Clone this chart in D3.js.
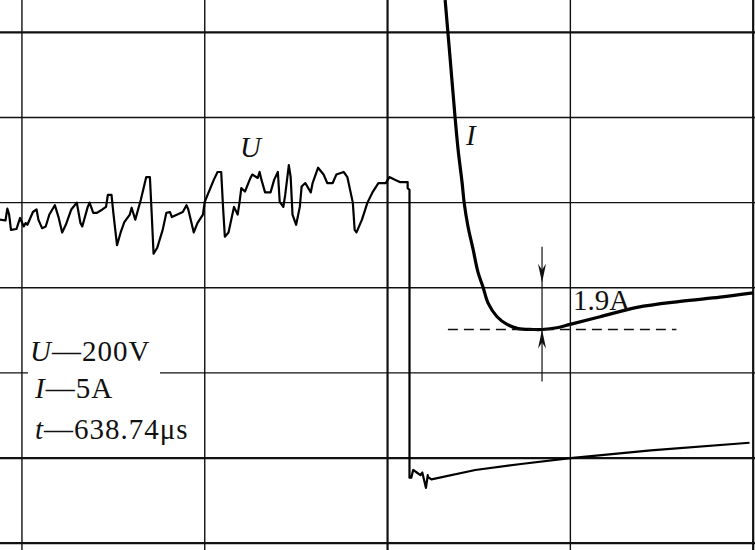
<!DOCTYPE html>
<html>
<head>
<meta charset="utf-8">
<script src="https://cdn.jsdelivr.net/npm/d3@7"></script>
<style>
  html, body { margin: 0; padding: 0; background: #fff; }
  svg { display: block; }
  text { font-family: 'Liberation Serif', 'Times New Roman', serif; fill: #111; }
</style>
</head>
<body>
<div class="chart"></div>
<script>
// DATA (screen divisions: x = time div, y = amplitude div, 0 at middle line)
// ----------------------------
const gridX = [0, 1, 2, 3, 4]
const gridY = [3, 2, 1, 0, -1, -2, -3]
const thickX = [2, 4]
const thickY = [3, -2, -3]

// voltage trace U
const uTime = [-0.12, -0.09, -0.08, -0.07, -0.06, -0.03, -0.01, 0.01, 0.02, 0.03,
  0.06, 0.08, 0.09, 0.11, 0.13, 0.15, 0.18, 0.20, 0.22, 0.24,
  0.27, 0.30, 0.32, 0.33, 0.36, 0.37, 0.39, 0.41, 0.44, 0.46,
  0.47, 0.49, 0.50, 0.52, 0.54, 0.56, 0.59, 0.60, 0.62, 0.65,
  0.68, 0.70, 0.71, 0.72, 0.74, 0.77, 0.79, 0.81, 0.82, 0.85,
  0.88, 0.90, 0.91, 0.94, 0.96, 0.99, 1.00, 1.05, 1.07, 1.09,
  1.10, 1.11, 1.13, 1.16, 1.18, 1.19, 1.20, 1.22, 1.25, 1.26,
  1.29, 1.30, 1.31, 1.33, 1.36, 1.38, 1.40, 1.41, 1.43, 1.44,
  1.46, 1.47, 1.48, 1.50, 1.52, 1.53, 1.55, 1.58, 1.59, 1.62,
  1.65, 1.67, 1.70, 1.72, 1.76, 1.78, 1.81, 1.82, 1.83, 1.86,
  1.89, 1.92, 1.95, 1.99, 2.01, 2.04, 2.07, 2.11, 2.11, 2.12,
  2.12, 2.13, 2.14, 2.16, 2.18, 2.19, 2.21, 2.22, 2.22, 2.24,
  2.48, 2.73, 3.00, 3.44, 3.98]
const uLevel = [0.80, 0.79, 0.93, 0.86, 0.68, 0.69, 0.82, 0.72, 0.76, 0.74,
  0.89, 0.92, 0.80, 0.70, 0.72, 0.86, 0.97, 0.83, 0.65, 0.74,
  0.92, 1.00, 0.76, 0.72, 0.95, 1.00, 0.88, 0.88, 0.92, 0.95,
  1.09, 1.09, 0.88, 0.50, 0.65, 0.77, 0.86, 0.94, 0.80, 1.03,
  1.30, 1.30, 0.86, 0.40, 0.47, 0.68, 0.88, 0.89, 0.83, 0.86,
  0.89, 0.97, 0.92, 0.65, 0.76, 0.86, 1.01, 1.27, 1.36, 1.36,
  0.95, 0.60, 0.65, 0.95, 0.86, 1.00, 1.17, 1.13, 1.29, 1.33,
  1.29, 1.36, 1.27, 1.12, 1.12, 1.27, 1.36, 1.01, 0.95, 1.09,
  1.44, 1.30, 0.86, 0.74, 0.95, 1.19, 1.23, 1.12, 1.23, 1.41,
  1.33, 1.23, 1.23, 1.33, 1.36, 1.30, 1.00, 0.68, 0.65, 0.80,
  1.00, 1.13, 1.23, 1.23, 1.30, 1.27, 1.24, 1.24, 1.17, 1.15,
  -2.23, -2.23, -2.14, -2.17, -2.20, -2.17, -2.35, -2.20, -2.22, -2.25,
  -2.14, -2.07, -2.00, -1.91, -1.82]

// current trace I
const iTime = [2.315, 2.342, 2.369, 2.386, 2.408, 2.419, 2.440, 2.468, 2.495, 2.522,
  2.550, 2.599, 2.654, 2.714, 2.796, 2.845, 2.927, 2.999, 3.163, 3.365,
  3.601, 3.819, 4.000]
const iLevel = [3.38, 2.70, 2.01, 1.62, 1.23, 1.00, 0.72, 0.45, 0.18, 0.01,
  -0.18, -0.34, -0.43, -0.48, -0.49, -0.49, -0.47, -0.43, -0.34, -0.23,
  -0.16, -0.11, -0.06]

// annotation: dip of I below the grid line
const dipLevel = -0.49
const dipRange = [2.33, 3.58]
const dipTime = 2.845
const dipRef = 0.06
const dipText = '1.9A'

// scale legend
const legendNames = ['U', 'I', 't']
const legendValues = ['200V', '5A', '638.74μs']
// ----------------------------
// [END] DATA


// SETUP
// ----------------------------
const fullWidth = 755
const fullHeight = 550

const svg = d3.select('.chart')
  .append('svg')
    .attr('width', fullWidth)
    .attr('height', fullHeight)
    .attr('viewBox', `0 0 ${fullWidth} ${fullHeight}`)

const xScale = d3.scaleLinear()
  .domain([-0.12, 4.01])
  .range([0, fullWidth])
const yScale = d3.scaleLinear()
  .domain([3.38, -3.08])
  .range([0, fullHeight])
// ----------------------------
// [END] SETUP


// GRID
// ----------------------------
svg.append('g')
  .selectAll('line')
  .data(gridY)
  .enter()
  .append('line')
    .attr('x1', 0)
    .attr('x2', fullWidth)
    .attr('y1', d => yScale(d))
    .attr('y2', d => yScale(d))
    .style('stroke', '#111')
    .style('stroke-width', d => thickY.includes(d) ? 2.2 : 1.4)

// white patch behind the scale legend
svg.append('rect')
  .attr('x', 28)
  .attr('y', 336)
  .attr('width', 132)
  .attr('height', 112)
  .style('fill', '#fff')

svg.append('g')
  .selectAll('line')
  .data(gridX)
  .enter()
  .append('line')
    .attr('y1', 0)
    .attr('y2', fullHeight)
    .attr('x1', d => xScale(d))
    .attr('x2', d => xScale(d))
    .style('stroke', '#111')
    .style('stroke-width', d => thickX.includes(d) ? 2.2 : 1.4)
// ----------------------------
// [END] GRID


// TRACES
// ----------------------------
const uLine = d3.line()
  .x((d, i) => xScale(uTime[i]))
  .y(d => yScale(d))

svg.append('path')
  .datum(uLevel)
  .attr('d', uLine)
  .style('fill', 'none')
  .style('stroke', '#000')
  .style('stroke-width', 2.2)
  .style('stroke-linejoin', 'round')

const iLine = d3.line()
  .x((d, i) => xScale(iTime[i]))
  .y(d => yScale(d))
  .curve(d3.curveCatmullRom.alpha(0.5))

svg.append('path')
  .datum(iLevel)
  .attr('d', iLine)
  .style('fill', 'none')
  .style('stroke', '#000')
  .style('stroke-width', 3.2)
// ----------------------------
// [END] TRACES


// ANNOTATION
// ----------------------------
svg.append('line')
  .attr('x1', xScale(dipRange[0]))
  .attr('x2', xScale(dipRange[1]))
  .attr('y1', yScale(dipLevel))
  .attr('y2', yScale(dipLevel))
  .style('stroke', '#111')
  .style('stroke-width', 1.4)
  .style('stroke-dasharray', '10,6')

const ax = xScale(dipTime)
svg.append('line')
  .attr('x1', ax)
  .attr('x2', ax)
  .attr('y1', yScale(dipRef) - 36)
  .attr('y2', yScale(dipLevel) + 52)
  .style('stroke', '#111')
  .style('stroke-width', 1.2)

// arrow heads: one down onto the grid line, one up onto the dashed line
const head = (tipY, dir) =>
  `M${ax},${tipY} L${ax - 4},${tipY - dir * 19} L${ax},${tipY - dir * 13} L${ax + 4},${tipY - dir * 19} Z`
svg.append('path')
  .attr('d', head(yScale(dipRef), 1))
  .style('fill', '#111')
svg.append('path')
  .attr('d', head(yScale(dipLevel), -1))
  .style('fill', '#111')

svg.append('text')
  .attr('x', xScale(dipTime) + 31)
  .attr('y', 310)
  .style('font-size', '29px')
  .text(dipText)

svg.append('text')
  .attr('x', 240)
  .attr('y', 157)
  .style('font-size', '29px')
  .style('font-style', 'italic')
  .text('U')

svg.append('text')
  .attr('x', 466)
  .attr('y', 145)
  .style('font-size', '29px')
  .style('font-style', 'italic')
  .text('I')
// ----------------------------
// [END] ANNOTATION


// SCALE LEGEND
// ----------------------------
const legend = svg.append('g')
legendNames.forEach((name, i) => {
  const t = legend.append('text')
    .attr('x', i === 0 ? 30 : 35)
    .attr('y', [361, 398, 439][i])
    .style('font-size', '29px')
    .style('letter-spacing', '1px')
  t.append('tspan')
    .style('font-style', 'italic')
    .text(name)
  t.append('tspan')
    .text('—' + legendValues[i])
})
// ----------------------------
// [END] SCALE LEGEND
</script>
</body>
</html>
